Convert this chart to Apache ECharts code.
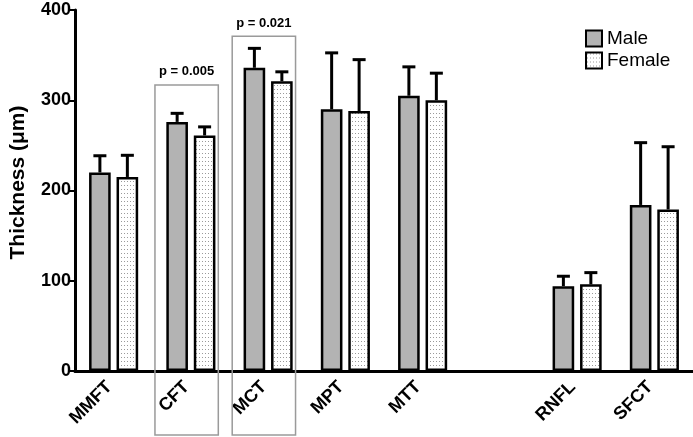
<!DOCTYPE html>
<html><head><meta charset="utf-8">
<script src="https://cdn.jsdelivr.net/npm/echarts@6/dist/echarts.min.js"></script>
<style>html,body{margin:0;padding:0;background:#fff}#c{width:693px;height:437px}</style>
</head><body><div id="c"></div>
<script>
const categories = ['MMFT','CFT','MCT','MPT','MTT','','RNFL','SFCT'];
const maleMean = [220, 276, 336, 290, 305, null, 94, 184];
const maleSD = [18.5, 9.5, 21.5, 62.5, 32, null, 11, 69];
const femaleMean = [215, 261, 321, 288, 300, null, 96, 179];
const femaleSD = [24, 9.5, 10.5, 57, 30, null, 13, 69.5];
const yTicks = [0, 100, 200, 300, 400];
const sigCategories = ['CFT', 'MCT'];
const sigBoxTop = [317, 371];
const sigLabels = ['p = 0.005', 'p = 0.021'];

const FONT = "'Liberation Sans', Arial, sans-serif";
const BAR_W = 0.28, BAR_GAP = 0.27;

// dotted pattern for the female bars
const pc = document.createElement('canvas');
pc.width = 3; pc.height = 4;
const pctx = pc.getContext('2d');
pctx.fillStyle = '#ffffff'; pctx.fillRect(0, 0, 3, 4);
pctx.fillStyle = '#9a9a9a'; pctx.fillRect(1, 1, 1, 1);
const dotPattern = { image: pc, repeat: 'repeat' };

function barData(arr) { return arr.map(v => v == null ? '-' : v); }
function errData(mean, sd) {
  const out = [];
  mean.forEach((m, i) => { if (m != null) out.push([i, m, m + sd[i]]); });
  return out;
}
function errRender(sign) {
  return function (params, api) {
    const x = api.value(0);
    const top = api.coord([x, api.value(1)]);
    const cap = api.coord([x, api.value(2)]);
    const band = api.size([1, 0])[0];
    const bw = band * BAR_W, gap = bw * BAR_GAP;
    const cx = top[0] + sign * (bw + gap) / 2;
    const hw = 6.5;
    return { type: 'group', children: [
      { type: 'line', shape: { x1: cx, y1: top[1], x2: cx, y2: cap[1] }, style: { stroke: '#000', lineWidth: 3 } },
      { type: 'line', shape: { x1: cx - hw, y1: cap[1], x2: cx + hw, y2: cap[1] }, style: { stroke: '#000', lineWidth: 3 } }
    ]};
  };
}
const sigData = sigCategories.map((c, i) => [categories.indexOf(c), sigBoxTop[i], sigLabels[i]]);

const chart = echarts.init(document.getElementById('c'));
chart.setOption({
  animation: false,
  backgroundColor: '#fff',
  grid: { left: 70, right: 0, top: 10, bottom: 66, containLabel: false },
  legend: {
    data: ['Male', 'Female'], orient: 'vertical', left: 580, top: 24,
    itemWidth: 16, itemHeight: 16, itemGap: 3, icon: 'rect',
    textStyle: { fontSize: 19, color: '#000', fontFamily: FONT },
    itemStyle: { borderColor: '#000', borderWidth: 2 }
  },
  xAxis: {
    type: 'category', data: categories,
    axisLine: { lineStyle: { color: '#000', width: 3 } },
    axisTick: { alignWithLabel: true, length: 5, lineStyle: { color: '#000', width: 2 } },
    axisLabel: { interval: 0, rotate: 45, margin: 9, padding: [0, 6, 0, 0], fontSize: 18, fontWeight: 'bold', color: '#000', fontFamily: FONT }
  },
  yAxis: {
    type: 'value', min: yTicks[0], max: yTicks[yTicks.length - 1], interval: 100,
    name: 'Thickness (μm)', nameLocation: 'middle', nameGap: 46,
    nameTextStyle: { fontSize: 21, fontWeight: 'bold', color: '#000', fontFamily: FONT, padding: [0, 0, 0, 16] },
    axisLine: { show: true, lineStyle: { color: '#000', width: 3 } },
    axisTick: { show: true, length: 6, lineStyle: { color: '#000', width: 2 } },
    axisLabel: { margin: 4, fontSize: 18, fontWeight: 'bold', color: '#000', fontFamily: FONT },
    splitLine: { show: false }
  },
  series: [
    { name: 'Male', type: 'bar', data: barData(maleMean), barWidth: (BAR_W * 100) + '%', barGap: (BAR_GAP * 100) + '%',
      itemStyle: { color: '#b3b3b3', borderColor: '#000', borderWidth: 2.5 } },
    { name: 'Female', type: 'bar', data: barData(femaleMean), barWidth: (BAR_W * 100) + '%', barGap: (BAR_GAP * 100) + '%',
      itemStyle: { color: dotPattern, borderColor: '#000', borderWidth: 2.5 } },
    { type: 'custom', renderItem: errRender(-1), data: errData(maleMean, maleSD), z: 5, silent: true },
    { type: 'custom', renderItem: errRender(1), data: errData(femaleMean, femaleSD), z: 5, silent: true },
    { type: 'custom', clip: false, silent: true, z: 1, data: sigData,
      renderItem: function (params, api) {
        const x = api.value(0);
        const p = api.coord([x, api.value(1)]);
        const band = api.size([1, 0])[0];
        const left = p[0] - band * 0.465, w = band * 0.82;
        const bottom = api.getHeight() - 2;
        return { type: 'group', children: [
          { type: 'rect', shape: { x: left, y: p[1], width: w, height: bottom - p[1] },
            style: { fill: 'none', stroke: '#9a9a9a', lineWidth: 1.5 } },
          { type: 'text', style: { text: sigLabels[params.dataIndex], x: left + w / 2, y: p[1] - 13,
            align: 'center', verticalAlign: 'middle', fill: '#000', font: 'bold 13px ' + FONT } }
        ]};
      } }
  ]
});
</script></body></html>
